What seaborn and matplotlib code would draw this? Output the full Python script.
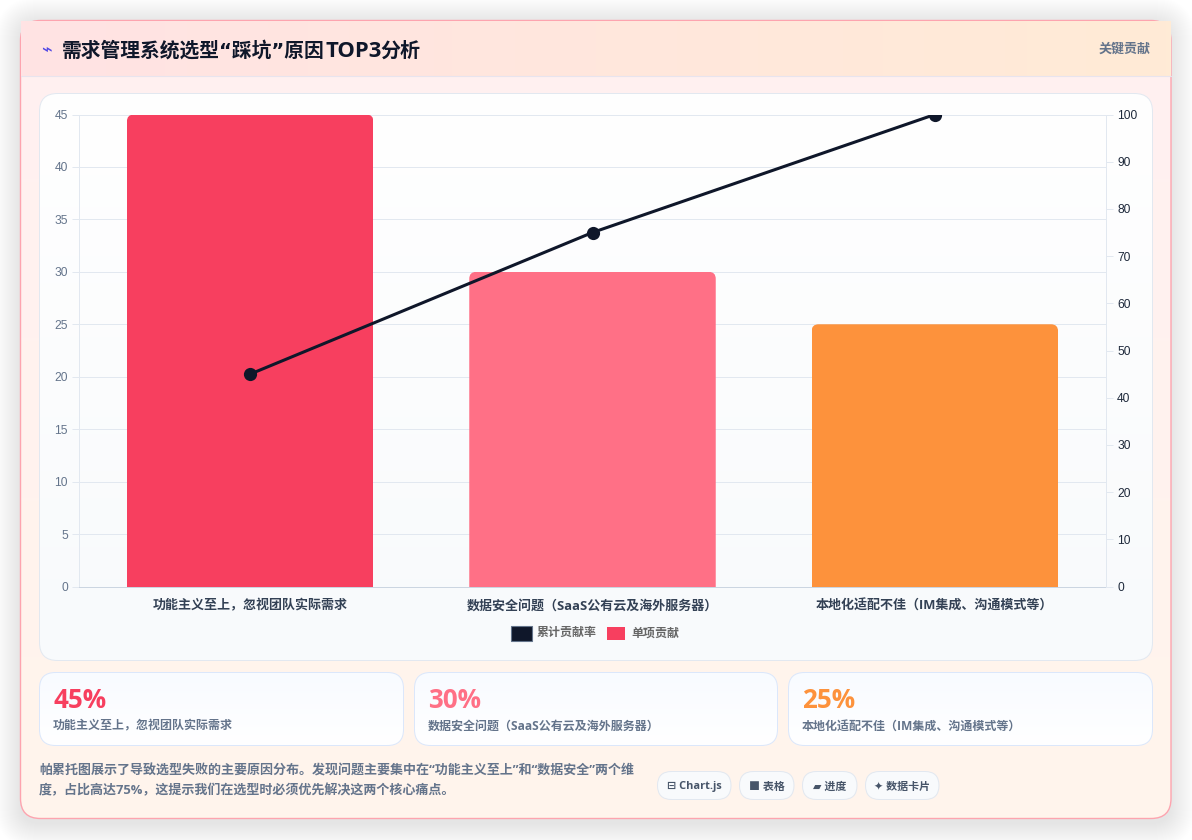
import numpy as np
import pandas as pd
import seaborn as sns
import matplotlib.pyplot as plt
from matplotlib.patches import FancyBboxPatch, Rectangle
from matplotlib.colors import LinearSegmentedColormap

# data
categories = ['功能主义至上，忽视团队实际需求', '数据安全问题（SaaS公有云及海外服务器）', '本地化适配不佳（IM集成、沟通模式等）']
card_labels = ['功能主义至上，忽视团队实际需求', '数据安全问题（SaaS公有云及海外服务器）', '本地化适配不佳（IM集成、沟通模式等）']
single = [45, 30, 25]
cumulative = [45, 75, 100]
bar_colors = ['#f73f5f', '#ff7086', '#fd923c']
left_ticks = list(range(0, 50, 5))
right_ticks = list(range(0, 110, 10))
title_parts = ['需求管理系统选型“踩坑”原因', 'TOP3', '分析']
note_lines = ['帕累托图展示了导致选型失败的主要原因分布。发现问题主要集中在“功能主义至上”和“数据安全”两个维',
              '度，占比高达75%，这提示我们在选型时必须优先解决这两个核心痛点。']
pills = ['⊟ Chart.js', '■ 表格', '▰ 进度', '✦ 数据卡片']

df = pd.DataFrame({'reason': categories, 'single': single, 'cumulative': cumulative})

sns.set_theme(style='white')
FONT = ['Open Sans', 'Noto Sans CJK SC', 'DejaVu Sans']
QUOTE_FONT = ['DejaVu Sans', 'Noto Sans CJK SC']
plt.rcParams['font.family'] = FONT

W, H = 1192, 840
fig = plt.figure(figsize=(W / 100, H / 100), dpi=100, facecolor='white')

# background layer in pixel coordinates
bg = fig.add_axes([0, 0, 1, 1], zorder=0)
bg.set_xlim(0, W)
bg.set_ylim(H, 0)
bg.axis('off')


def box(x0, y0, x1, y1, r, fc='none', ec='none', lw=0.72, z=1, alpha=None):
    p = FancyBboxPatch((x0, y0), x1 - x0, y1 - y0, boxstyle=f'round,pad=0,rounding_size={r}',
                       fc=fc, ec=ec, lw=lw, zorder=z, alpha=alpha, transform=bg.transData)
    bg.add_patch(p)
    return p


def gradient(x0, y0, x1, y1, c0, c1, clip=None, z=2, horizontal=False):
    cmap = LinearSegmentedColormap.from_list('g', [c0, c1])
    g = np.linspace(0, 1, 256)
    g = g.reshape(1, -1) if horizontal else g.reshape(-1, 1)
    im = bg.imshow(g, extent=(x0, x1, y1, y0), cmap=cmap, aspect='auto', zorder=z, vmin=0, vmax=1)
    if clip is not None:
        im.set_clip_path(clip)
    bg.set_xlim(0, W)
    bg.set_ylim(H, 0)


def txt(x, y, s, size, color, weight='normal', ha='left', family=None):
    # y is the visual middle of the line; baseline keeps mixed fonts level
    bg.text(x, y + 0.36 * size, s, fontsize=size * 0.72, color=color, fontweight=weight, ha=ha,
            va='baseline', family=family or FONT, zorder=10)


# outer card with soft shadow
for i in range(26):
    box(20 - i, 22 - i, 1171 + i, 824 + i, 20 + i, fc='#0f172a', z=0.5, alpha=0.0022)
card = box(20.5, 20.5, 1171, 818.5, 20, fc='#fff1f0', z=1)
gradient(20, 20, 1171, 819, '#fff0f1', '#fff5ec', clip=card, z=1.2)
box(20.5, 20.5, 1171, 818.5, 20, ec='#fda4af', lw=1.0, z=1.5)

# header strip
gradient(21, 21, 1171, 76, '#ffe3e4', '#ffebd6', z=2, horizontal=True)
bg.plot([21, 1171], [76, 76], color='#e8e4ee', lw=0.8, zorder=3)
txt(41, 49, '⌁', 18, '#4f46e5', family=['DejaVu Sans'])
txt(62, 49.5, title_parts[0], 19.75, '#0f172a', weight='bold', family=QUOTE_FONT)
txt(326, 49, title_parts[1], 22, '#0f172a', weight='bold')
txt(380, 49.5, title_parts[2], 20, '#0f172a', weight='bold')
txt(1151, 48, '关键贡献', 13, '#64748b', weight='bold', ha='right')

# chart panel
panel = box(39.5, 93.5, 1152.5, 660.5, 18, fc='white', z=3)
gradient(39, 93, 1153, 661, '#ffffff', '#f8fafc', clip=panel, z=3.1)
box(39.5, 93.5, 1152.5, 660.5, 18, ec='#e2e8f0', z=3.2)

# legend swatches
bg.add_patch(Rectangle((511, 625.5), 21, 15, fc='#0f172a', ec='#64748b', lw=0.8, zorder=5))
txt(537, 632, '累计贡献率', 12, '#666666', weight='bold')
bg.add_patch(Rectangle((607, 627), 18, 13, fc=bar_colors[0], ec='none', zorder=5))
txt(631, 632, '单项贡献', 12, '#666666', weight='bold')

# stat cards
card_spans = [(39.5, 403.5), (414.5, 777.5), (788.5, 1152.5)]
for (x0, x1), val, lab, col in zip(card_spans, single, card_labels, bar_colors):
    c = box(x0, 672.5, x1, 745.5, 16, fc='white', z=3)
    gradient(x0, 672, x1, 746, '#f8fbff', '#ffffff', clip=c, z=3.1)
    box(x0, 672.5, x1, 745.5, 16, ec='#dbe7fb', z=3.2)
    txt(x0 + 13.5, 699, f'{val}%', 26, col, weight='bold')
    txt(x0 + 13.5, 725, lab, 12, '#64748b', weight='bold')

# note and pills
txt(39, 770, note_lines[0], 13, '#64748b', weight='bold')
txt(39, 790, note_lines[1], 13, '#64748b', weight='bold')
pill_spans = [(657.5, 731), (739.5, 794), (802.5, 857), (865.5, 939)]
for (x0, x1), s in zip(pill_spans, pills):
    box(x0, 771.5, x1, 799.5, 14, fc='#f8fafc', ec='#e2e8f0', z=3)
    txt((x0 + x1) / 2, 785.5, s, 11, '#475569', weight='bold', ha='center')

# main chart
ax = fig.add_axes([79 / W, (H - 586.5) / H, 1027 / W, 472 / H], zorder=2)
ax.patch.set_alpha(0)
sns.barplot(data=df, x='reason', y='single', hue='reason', palette=bar_colors, width=0.72,
            legend=False, saturation=1, linewidth=0, ax=ax)
ax.set_xlim(-0.5, 2.5)
ax.set_ylim(0, 45)
ax.set_yticks(left_ticks)
ax.set_xlabel('')
ax.set_ylabel('')
ax.grid(axis='y', color='#e2e8f0', lw=0.72)
ax.set_axisbelow(True)
ax.tick_params(axis='y', length=5, width=0.72, color='#e2e8f0', pad=3, labelsize=8.64, labelcolor='#64748b')
ax.tick_params(axis='x', length=0, pad=16.5)
for lab in ax.get_yticklabels():
    lab.set_family(['Liberation Sans'])
for lab in ax.get_xticklabels():
    lab.set_fontsize(9.36)
    lab.set_fontweight('bold')
    lab.set_color('#334155')
    lab.set_va('baseline')
for side in ['top', 'right']:
    ax.spines[side].set_visible(False)
ax.spines['left'].set_color('#e2e8f0')
ax.spines['left'].set_linewidth(0.72)
ax.spines['bottom'].set_color('#cbd5e1')
ax.spines['bottom'].set_linewidth(0.72)

# rounded top corners on bars
for bar in ax.patches:
    (x0, y0), (x1, y1) = ax.transData.transform([(bar.get_x(), bar.get_y()),
                                                 (bar.get_x() + bar.get_width(), bar.get_height())])
    clip = FancyBboxPatch((x0, H - y1), x1 - x0, y1 - y0 + 20, boxstyle='round,pad=0,rounding_size=7',
                          transform=bg.transData)
    bar.set_clip_path(clip)

# cumulative line on the right axis
ax2 = ax.twinx()
ax2.patch.set_alpha(0)
sns.lineplot(data=df, x='reason', y='cumulative', sort=False, color='#0f172a', lw=2.2, marker='o',
             markersize=9.5, markeredgewidth=0, ax=ax2)
ax2.set_ylim(0, 100)
ax2.set_yticks(right_ticks)
ax2.set_ylabel('')
ax2.set_xlabel('')
ax2.tick_params(axis='y', length=5, width=0.72, color='#e2e8f0', pad=3, labelsize=8.64, labelcolor='#1e293b')
for lab in ax2.get_yticklabels():
    lab.set_family(['Liberation Sans'])
for side in ['top', 'left', 'bottom']:
    ax2.spines[side].set_visible(False)
ax2.spines['right'].set_color('#e2e8f0')
ax2.spines['right'].set_linewidth(0.72)

fig.savefig('out.png', dpi=100)
